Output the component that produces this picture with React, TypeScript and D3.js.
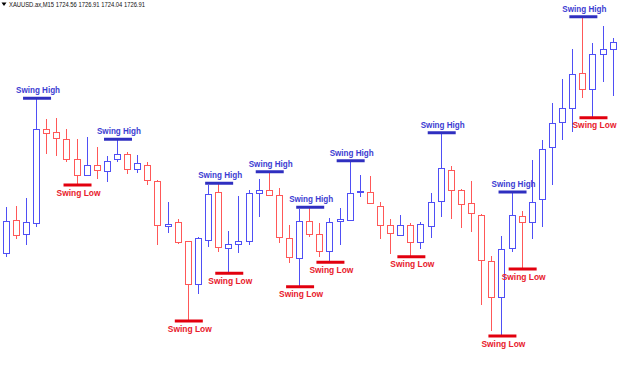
import React from "react";
import * as d3 from "d3";

const opens = [1710.58,1713.18,1712.06,1712.94,1720.46,1720.26,1719.68,1718.08,1716.80,1717.60,1717.14,1718.06,1718.48,1717.26,1717.60,1716.34,1712.74,1713.02,1711.48,1708.06,1711.60,1715.42,1710.94,1711.28,1711.54,1715.34,1715.60,1715.20,1711.74,1710.14,1713.14,1712.08,1710.74,1713.10,1713.20,1715.42,1715.46,1714.34,1712.80,1712.00,1712.80,1711.46,1712.72,1714.72,1717.20,1715.60,1714.54,1713.58,1709.94,1707.02,1710.94,1713.54,1713.02,1714.88,1719.02,1721.06,1722.14,1724.94,1723.66,1726.48,1726.88];
const highs = [1714.26,1714.34,1714.98,1722.94,1721.26,1721.38,1720.48,1719.68,1719.82,1719.02,1718.32,1719.66,1718.62,1718.40,1717.86,1716.40,1714.66,1713.28,1711.52,1711.82,1716.00,1716.14,1712.32,1715.14,1715.60,1716.46,1717.06,1715.74,1712.80,1714.10,1714.22,1712.94,1713.34,1714.14,1717.94,1716.80,1716.72,1714.66,1713.28,1713.60,1712.94,1713.06,1715.38,1720.18,1717.54,1715.66,1716.32,1713.66,1710.34,1711.92,1715.44,1713.94,1718.00,1719.60,1722.58,1724.46,1726.86,1729.46,1727.34,1728.72,1727.74];
const lows = [1710.26,1711.66,1711.20,1712.66,1718.48,1718.32,1717.86,1716.00,1716.78,1716.48,1716.26,1717.86,1716.86,1716.94,1716.00,1711.20,1712.14,1711.28,1705.12,1707.28,1711.06,1710.66,1708.94,1710.54,1711.20,1713.46,1715.16,1711.34,1709.74,1707.86,1711.86,1710.26,1709.82,1711.20,1713.16,1715.06,1714.50,1711.68,1710.48,1711.96,1710.26,1710.86,1711.74,1713.46,1713.28,1712.58,1712.26,1706.40,1704.34,1703.92,1710.66,1709.28,1711.66,1712.66,1716.00,1719.60,1720.26,1722.94,1721.38,1724.26,1723.14];
const closes = [1713.12,1711.98,1713.06,1720.46,1720.14,1719.74,1718.08,1716.80,1717.60,1717.18,1717.94,1718.48,1717.26,1717.74,1716.40,1712.80,1712.90,1711.44,1708.06,1711.74,1715.32,1711.02,1711.28,1711.50,1715.34,1715.60,1715.20,1711.82,1710.22,1713.14,1712.08,1710.74,1713.06,1713.26,1715.38,1715.54,1714.54,1712.80,1712.14,1712.80,1711.46,1712.86,1714.62,1717.34,1715.60,1714.48,1713.74,1710.00,1707.06,1710.86,1713.60,1713.06,1714.66,1718.88,1720.94,1722.14,1724.86,1723.66,1726.46,1726.88,1727.42];

const swingHighIdx = [3, 11, 21, 26, 30, 34, 43, 50, 57];
const swingLowIdx = [7, 18, 22, 29, 32, 40, 49, 51, 58];
const headerText = "XAUUSD.ax,M15  1724.56 1726.91 1724.04 1726.91";
const highLabel = "Swing High";
const lowLabel = "Swing Low";

const W = 622;
const H = 365;
const BLUE = "#4f4ff5";
const RED = "#ff5858";
const SH_LINE = "#2f2fc0";
const SH_TEXT = "#3c3cd2";
const SL_LINE = "#e2000e";
const SL_TEXT = "#e8202c";

export default function App() {
  const n = opens.length;
  const x = d3.scaleLinear().domain([0, n - 1]).range([5.7, 612.7]);
  const y = d3.scaleLinear().domain([1704, 1730]).range([335, 10]);
  const font = "'Liberation Sans', Arial, sans-serif";
  const labelX = (cx: number) => Math.max(25, Math.min(cx + 1, W - 27));

  return (
    <div style={{ position: "fixed", left: 0, top: 0, width: W, height: H, background: "#fff" }}>
      <svg width={W} height={H} style={{ display: "block" }}>
        <rect width={W} height={H} fill="#ffffff" />
        <path d="M1.5,2.5 L6.5,2.5 L4,6 Z" fill="#000" />
        <text x={9} y={7} fontFamily={font} fontSize={7} fill="#111" textLength={136} lengthAdjust="spacingAndGlyphs">
          {headerText}
        </text>
        {d3.range(n).map((i) => {
          const cx = Math.round(x(i)) + 0.5;
          const bull = closes[i] >= opens[i];
          const col = bull ? BLUE : RED;
          const top = Math.round(y(Math.max(opens[i], closes[i]))) + 0.5;
          const bot = Math.round(y(Math.min(opens[i], closes[i]))) + 0.5;
          const hi = Math.round(y(highs[i]));
          const lo = Math.round(y(lows[i]));
          return (
            <g key={i}>
              <line x1={cx} x2={cx} y1={hi} y2={top} stroke={col} strokeWidth={1} />
              <line x1={cx} x2={cx} y1={bot} y2={lo} stroke={col} strokeWidth={1} />
              <rect x={cx - 3} y={top} width={6} height={Math.max(bot - top, 1)} fill="#fff" stroke={col} strokeWidth={1} />
            </g>
          );
        })}
        {swingHighIdx.map((i) => {
          const cx = x(i) + 1;
          const yy = y(highs[i]);
          return (
            <g key={"h" + i}>
              <line x1={cx - 14} x2={cx + 14} y1={yy} y2={yy} stroke={SH_LINE} strokeWidth={3} />
              <text x={labelX(cx)} y={yy - 5} textAnchor="middle" fontFamily={font} fontWeight="bold" fontSize={9.3} fill={SH_TEXT} textLength={44} lengthAdjust="spacingAndGlyphs">
                {highLabel}
              </text>
            </g>
          );
        })}
        {swingLowIdx.map((i) => {
          const cx = x(i) + 1;
          const yy = y(lows[i]);
          return (
            <g key={"l" + i}>
              <line x1={cx - 14} x2={cx + 14} y1={yy} y2={yy} stroke={SL_LINE} strokeWidth={3} />
              <text x={labelX(cx)} y={yy + 10.5} textAnchor="middle" fontFamily={font} fontWeight="bold" fontSize={9.3} fill={SL_TEXT} textLength={44} lengthAdjust="spacingAndGlyphs">
                {lowLabel}
              </text>
            </g>
          );
        })}
      </svg>
    </div>
  );
}
